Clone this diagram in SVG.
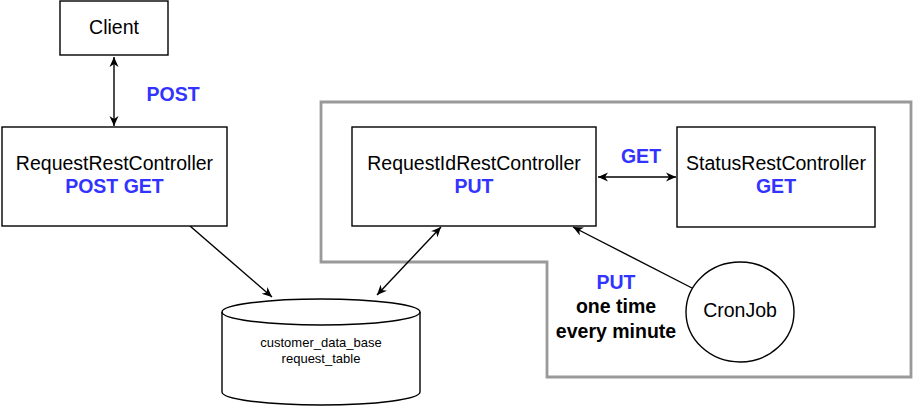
<svg xmlns="http://www.w3.org/2000/svg" width="917" height="407" viewBox="0 0 917 407">
<style>
.box{fill:#fff;stroke:#000;stroke-width:1.4}
.t{font-family:"Liberation Sans",Arial,sans-serif;font-size:19.5px;text-anchor:middle;fill:#000}
.b{font-weight:bold}
.blue{fill:#3333FF;font-weight:bold}
.s{font-size:13px}
.edge{stroke:#000;stroke-width:1.4;fill:none}
</style>
<defs>
<marker id="ah" markerUnits="userSpaceOnUse" markerWidth="12" markerHeight="10" refX="10" refY="4.5" orient="auto-start-reverse" viewBox="0 0 12 9">
<path d="M0,0 L10,4.5 L0,9 L3,4.5 z" fill="#000"/>
</marker>
</defs>
<rect width="917" height="407" fill="#fff"/>
<g id="group-outline">
<path d="M321,102 H911 V377 H547 V262 H321 Z" fill="none" stroke="#999999" stroke-width="2.8"/>
</g>
<g id="connectors">
<line class="edge" x1="114" y1="57" x2="114" y2="126" marker-start="url(#ah)" marker-end="url(#ah)"/>
<line class="edge" x1="190" y1="226" x2="272" y2="297" marker-end="url(#ah)"/>
<line class="edge" x1="377" y1="295" x2="441" y2="227" marker-start="url(#ah)" marker-end="url(#ah)"/>
<line class="edge" x1="598" y1="177" x2="676" y2="177" marker-start="url(#ah)" marker-end="url(#ah)"/>
<line class="edge" x1="692" y1="288" x2="573" y2="227" marker-end="url(#ah)"/>
</g>
<g id="client">
<rect class="box" x="60" y="1" width="108" height="54"/>
<text class="t" x="114" y="34">Client</text>
</g>
<g id="label-post">
<text class="t blue" x="173" y="101">POST</text>
</g>
<g id="request-rest-controller">
<rect class="box" x="2" y="127" width="225" height="99"/>
<text class="t" x="114.5" y="170">RequestRestController</text>
<text class="t blue" x="114.5" y="193">POST GET</text>
</g>
<g id="request-id-rest-controller">
<rect class="box" x="352" y="127" width="244" height="99"/>
<text class="t" x="474" y="170">RequestIdRestController</text>
<text class="t blue" x="474" y="193">PUT</text>
</g>
<g id="label-get">
<text class="t blue" x="641" y="163">GET</text>
</g>
<g id="status-rest-controller">
<rect class="box" x="677" y="127" width="198" height="100"/>
<text class="t" x="776" y="170">StatusRestController</text>
<text class="t blue" x="776" y="193">GET</text>
</g>
<g id="cronjob">
<ellipse class="box" cx="740" cy="312" rx="54" ry="50"/>
<text class="t" x="740" y="317">CronJob</text>
</g>
<g id="label-put">
<text class="t blue" x="616" y="289">PUT</text>
<text class="t b" x="616" y="313">one time</text>
<text class="t b" x="616" y="338">every minute</text>
</g>
<g id="database">
<path class="box" d="M222,312 A99,13 0 0,1 420,312 V392 A99,13 0 0,1 222,392 Z"/>
<path class="edge" d="M222,312 A99,13 0 0,0 420,312"/>
<text class="t s" x="321" y="347">customer_data_base</text>
<text class="t s" x="321" y="363">request_table</text>
</g>
</svg>
